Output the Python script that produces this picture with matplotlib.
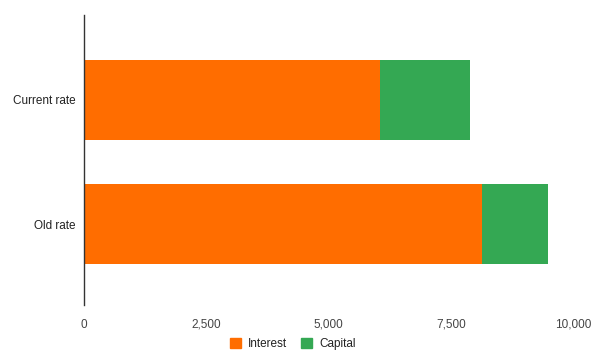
import matplotlib
matplotlib.use("Agg")
from matplotlib import pyplot as plt
from matplotlib.patches import Patch

categories = ["Current rate", "Old rate"]
interest = [6053, 8139]
capital = [1841, 1350]
x_ticks = [0, 2500, 5000, 7500, 10000]

plt.rcParams['font.family'] = ['Liberation Sans', 'DejaVu Sans']

fig = plt.figure(figsize=(6.04, 3.64), dpi=100)
ax = fig.add_axes([84 / 604, 1 - 305 / 364, (573 - 84) / 604, 290 / 364])

ypos = list(range(len(categories)))
ax.barh(ypos, interest, height=0.645, color="#ff6d00", label="Interest")
ax.barh(ypos, capital, left=interest, height=0.645, color="#34a853", label="Capital")

ax.set_xlim(0, 10000)
ax.set_ylim(1.653, -0.685)
ax.set_yticks(ypos)
ax.set_yticklabels(categories, fontsize=8.5, color="#222222")
ax.set_xticks(x_ticks)
ax.set_xticklabels([f"{v:,}" for v in x_ticks], fontsize=8.5, color="#444444")
ax.tick_params(axis="y", length=0, pad=6)
ax.tick_params(axis="x", length=0, pad=10)

for s in ["top", "right", "bottom"]:
    ax.spines[s].set_visible(False)
ax.spines["left"].set_color("#333333")
ax.spines["left"].set_linewidth(1)

handles = [Patch(color="#ff6d00", label="Interest"), Patch(color="#34a853", label="Capital")]
fig.legend(handles=handles, loc="center", bbox_to_anchor=(293 / 604, 1 - 344 / 364),
           ncol=2, frameon=False, fontsize=8.5, handlelength=0.9, handleheight=0.9,
           columnspacing=1.2, handletextpad=0.6, labelcolor="#222222")

fig.savefig("out.png", dpi=100)
